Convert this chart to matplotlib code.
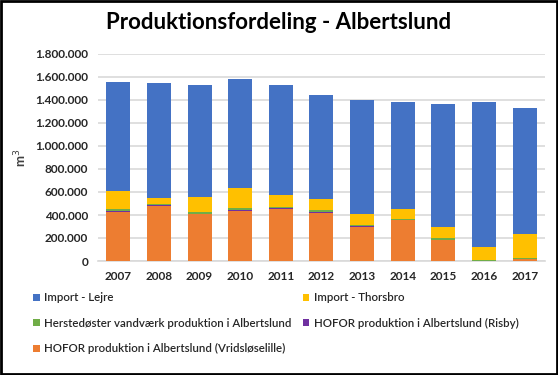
import matplotlib
matplotlib.use("Agg")
import matplotlib.pyplot as plt
from matplotlib.patches import Rectangle
from matplotlib.ticker import FuncFormatter

plt.rcParams["font.family"] = ["Lato", "DejaVu Sans"]

years = ["2007", "2008", "2009", "2010", "2011", "2012", "2013", "2014", "2015", "2016", "2017"]

vridsloeselille = [430000, 482000, 409000, 435000, 453000, 418000, 296000, 357000, 183000, 0, 17000]
risby = [8000, 9000, 1000, 12000, 11000, 12000, 12000, 0, 0, 0, 0]
herstedoester = [15000, 5000, 18000, 17000, 9000, 14000, 6000, 9000, 17000, 9000, 12000]
thorsbro = [157000, 56000, 125000, 172000, 102000, 96000, 95000, 87000, 96000, 113000, 206000]
lejre = [950000, 998000, 981000, 949000, 958000, 906000, 993000, 932000, 1071000, 1263000, 1097000]

series = [
    ("HOFOR produktion i Albertslund (Vridsløselille)", vridsloeselille, "#ED7D31"),
    ("HOFOR produktion i Albertslund (Risby)", risby, "#7030A0"),
    ("Herstedøster vandværk produktion i Albertslund", herstedoester, "#70AD47"),
    ("Import - Thorsbro", thorsbro, "#FFC000"),
    ("Import - Lejre", lejre, "#4472C4"),
]

fig = plt.figure(figsize=(5.58, 3.75), dpi=100)
ax = fig.add_axes([0.1756, 0.304, 0.801, 0.552])

x = range(len(years))
bottom = [0] * len(years)
handles = {}
for name, vals, col in series:
    b = ax.bar(x, vals, 0.59, bottom=bottom, color=col, label=name, zorder=3)
    handles[name] = b
    bottom = [p + q for p, q in zip(bottom, vals)]

ax.set_ylim(0, 1800000)
ax.set_xlim(-0.5, len(years) - 0.5)
ax.set_yticks(range(0, 1800001, 200000))
ax.yaxis.set_major_formatter(FuncFormatter(lambda v, p: f"{int(v):,}".replace(",", ".")))
ax.set_xticks(list(x))
ax.set_xticklabels(years)
ax.grid(axis="y", color="#D9D9D9", linewidth=1.2, zorder=0)
for s in ["top", "right", "left"]:
    ax.spines[s].set_visible(False)
ax.spines["bottom"].set_color("#D9D9D9")
ax.spines["bottom"].set_linewidth(1.2)
ax.tick_params(length=0, labelsize=8.5, colors="#262626", pad=7)
for t in ax.get_xticklabels() + ax.get_yticklabels():
    t.set_fontweight("bold")
ax.set_ylabel("m$^3$", fontsize=9.5, fontweight="bold", color="#404040")
ax.yaxis.set_label_coords(-0.155, 0.5)

fig.text(0.5, 0.94, "Produktionsfordeling - Albertslund", ha="center", va="center",
         fontsize=16, fontweight="bold", color="black")

order = ["Import - Lejre", "Herstedøster vandværk produktion i Albertslund",
         "HOFOR produktion i Albertslund (Vridsløselille)",
         "Import - Thorsbro", "HOFOR produktion i Albertslund (Risby)"]
fig.legend([handles[n] for n in order], order, ncol=2, loc="upper left",
           bbox_to_anchor=(0.04, 0.248), frameon=False,
           handlelength=0.6, handleheight=0.6, handletextpad=0.35,
           labelspacing=1.25, columnspacing=1.0, labelcolor="#262626",
           prop={"weight": "semibold", "size": 8.3})

fig.patches.append(Rectangle((0.002, 0.003), 0.996, 0.994, transform=fig.transFigure,
                             fill=False, edgecolor="black", linewidth=2))

fig.savefig("out.png", dpi=100)
